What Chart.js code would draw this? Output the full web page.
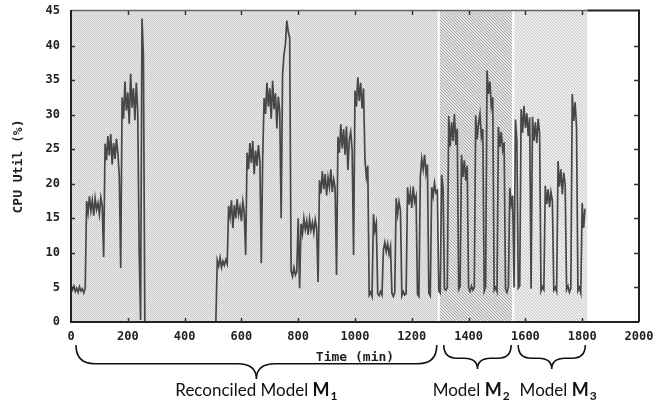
<!DOCTYPE html>
<html>
<head>
<meta charset="utf-8">
<script src="https://cdn.jsdelivr.net/npm/chart.js@4.4.1/dist/chart.umd.min.js"></script>
<style>
  html, body { margin: 0; padding: 0; background: #fff; }
  canvas { display: block; }
</style>
</head>
<body>
<canvas id="grafico" width="660" height="406"></canvas>
<script>
// samples every 5 minutes
const sampleStep = 5;

// first run: 0 .. 260 min
const run1Start = 0;
const run1Cpu = [
  5.0, 4.6, 5.2, 4.4, 4.9, 4.3, 5.1, 4.5, 4.8, 4.2, 4.9,
  17.5, 15.8, 18.2, 16.1, 17.6, 15.4, 17.9, 16.3, 17.2, 15.6, 18.0, 16.8,
  9.4,
  25.8, 23.4, 26.9, 24.1, 27.2, 22.8, 25.9, 23.6, 26.5, 24.4, 21.2,
  7.8,
  32.5, 29.4, 34.8, 30.6, 33.2, 28.7, 35.9, 31.0, 33.8, 29.2, 34.6, 30.4,
  10.4, 0.3, 43.9, 38.5, 0
];

// second run: 510 .. 1810 min
const run2Start = 510;
const run2Cpu = [
  0,
  8.9, 8.1, 9.3, 7.9, 8.8, 8.2, 9.0, 8.4,
  16.8, 15.2, 17.6, 13.6, 16.9, 15.0, 17.8, 15.5, 16.6, 14.6, 17.4, 15.8,
  9.7,
  24.5, 22.1, 25.9, 23.0, 26.2, 21.4, 24.8, 22.6, 25.6, 23.3,
  8.5, 23.8,
  32.4, 30.1, 34.6, 31.2, 33.8, 29.4, 34.9, 30.8, 33.1, 28.0, 32.6, 30.5,
  15.0,
  35.8, 38.7, 40.2, 43.6, 42.0, 41.1,
  7.4, 6.6, 7.9, 6.8, 7.3,
  15.0, 4.9,
  14.2, 12.8, 15.0, 13.4, 14.6, 12.6, 14.9, 13.3, 14.4, 12.9, 14.8, 13.6,
  5.8,
  20.5, 18.6, 21.8, 19.2, 21.4, 18.3, 20.9, 19.5, 22.1, 18.8, 20.6, 19.4,
  6.8,
  26.8, 24.5, 28.6, 25.1, 27.9, 24.2, 28.3, 22.0, 26.4, 27.5, 24.8,
  9.7,
  33.5, 31.2, 35.4, 32.0, 34.6, 30.9, 33.8,
  23.5, 21.0, 22.6,
  3.9, 4.3, 3.7,
  15.6, 13.2, 14.3,
  4.1, 3.8, 4.4, 3.9,
  10.4, 11.5, 10.2, 11.3, 9.8, 10.9,
  4.2, 3.7, 4.3,
  17.9, 15.6, 17.4, 16.2,
  3.8, 4.4, 3.9, 4.1,
  19.5, 17.0, 18.8, 16.5, 19.6, 17.4, 18.2,
  4.0, 3.7,
  21.0, 23.6, 22.1, 24.2, 21.5, 22.8,
  4.2, 3.8,
  19.5, 18.2, 20.1, 18.7, 19.0,
  4.5, 4.2,
  21.3, 19.4,
  4.8, 4.6, 5.0,
  29.8, 25.4, 28.9, 26.2, 30.1, 25.6, 28.0,
  4.7, 5.1,
  24.2, 21.0, 23.4, 20.5, 22.6,
  4.9, 4.4, 5.2, 4.6, 5.0,
  29.9, 26.4, 28.7, 30.1, 26.8, 27.9,
  4.5, 5.1,
  36.4, 33.0, 34.8, 31.2, 32.5,
  4.6, 5.0, 4.4,
  28.2, 25.3, 27.5, 24.9, 26.0,
  4.8, 4.3, 5.1,
  19.4, 17.0, 18.3,
  5.0,
  29.3, 26.2,
  4.9, 5.2,
  30.8, 27.4, 31.3, 28.1, 30.2, 26.9, 29.6,
  4.8,
  29.7, 26.2, 28.9, 25.9, 29.4, 27.3,
  4.5, 5.1, 4.7,
  19.7, 17.1, 19.2, 16.6, 18.8, 17.5,
  4.6, 5.0, 4.4,
  23.3, 19.6, 22.1, 18.5, 21.6, 19.9,
  4.7, 5.2, 4.3, 4.9,
  33.0, 29.1, 31.8, 28.2,
  4.5, 5.0, 4.2,
  17.2, 13.6, 16.4
];

// model periods (min)
const modelStart = [0, 1295, 1557];
const modelEnd = [1295, 1557, 1818];
const modelNames = ['Reconciled Model', 'Model', 'Model'];
const modelSubs = ['1', '2', '3'];

const xTickStep = 200;
const yTickStep = 5;

const tickFont = { family: 'DejaVu Sans Mono', size: 12, weight: 'bold' };
const titleFont = { family: 'DejaVu Sans Mono', size: 13, weight: 'bold' };

function montarPontos() {
  const pontos = [];
  run1Cpu.forEach((v, i) => pontos.push({ x: run1Start + i * sampleStep, y: v }));
  pontos.push({ x: (run1Start + run1Cpu.length * sampleStep + run2Start) / 2, y: null });
  run2Cpu.forEach((v, i) => pontos.push({ x: run2Start + i * sampleStep, y: v }));
  return pontos;
}

function criarPadrao(ctx, size, pintar) {
  const c = document.createElement('canvas');
  c.width = size;
  c.height = size;
  const g = c.getContext('2d');
  for (let py = 0; py < size; py++) {
    for (let px = 0; px < size; px++) {
      g.fillStyle = pintar(px, py);
      g.fillRect(px, py, 1, 1);
    }
  }
  return ctx.createPattern(c, 'repeat');
}

let padroes = null;

function desenharChave(ctx, x1, x2, yTop, h) {
  const xm = (x1 + x2) / 2;
  const ym = yTop + h * 0.55;
  const r = Math.min(h * 0.55, (x2 - x1) / 4);
  ctx.beginPath();
  ctx.moveTo(x1, yTop);
  ctx.quadraticCurveTo(x1, ym, x1 + r, ym);
  ctx.lineTo(xm - r, ym);
  ctx.quadraticCurveTo(xm, ym, xm, yTop + h);
  ctx.quadraticCurveTo(xm, ym, xm + r, ym);
  ctx.lineTo(x2 - r, ym);
  ctx.quadraticCurveTo(x2, ym, x2, yTop);
  ctx.stroke();
}

const fonteNome = '17px Lato';
const fonteM = 'bold 18px Lato';
const fonteSub = 'bold 12px Lato';

function larguraRotulo(ctx, nome, sub) {
  ctx.font = fonteNome;
  const w1 = ctx.measureText(nome + ' ').width;
  ctx.font = fonteM;
  const w2 = ctx.measureText('M').width + 1;
  ctx.font = fonteSub;
  const w3 = ctx.measureText(sub).width;
  return [w1, w2, w3];
}

function desenharRotulo(ctx, xStart, y, nome, sub) {
  const [w1, w2] = larguraRotulo(ctx, nome, sub);
  let x = xStart;
  ctx.fillStyle = '#111';
  ctx.textAlign = 'left';
  ctx.textBaseline = 'alphabetic';
  ctx.font = fonteNome;
  ctx.fillText(nome + ' ', x, y);
  x += w1;
  ctx.font = fonteM;
  ctx.fillText('M', x, y);
  x += w2;
  ctx.font = fonteSub;
  ctx.fillText(sub, x, y + 4);
}

const sombreamento = {
  id: 'sombreamento',
  beforeDatasetsDraw(chart) {
    const { ctx, chartArea: a, scales: { x } } = chart;
    if (!padroes) {
      padroes = [
        criarPadrao(ctx, 2, (px, py) => ((px + py) % 2 === 0 ? '#cdcdcd' : '#e8e8e8')),
        criarPadrao(ctx, 3, (px, py) => ((px - py + 9) % 3 === 0 ? '#a9a9a9' : '#e2e2e2')),
        criarPadrao(ctx, 3, (px, py) => ((px - py + 9) % 3 === 0 ? '#c6c6c6' : '#efefef'))
      ];
    }
    ctx.save();
    modelStart.forEach((s, k) => {
      const x1 = x.getPixelForValue(s);
      const x2 = x.getPixelForValue(modelEnd[k]);
      ctx.fillStyle = padroes[k];
      ctx.fillRect(x1, a.top, x2 - x1, a.bottom - a.top);
    });
    ctx.fillStyle = '#fff';
    modelStart.forEach((s, k) => {
      if (k > 0) {
        const xp = x.getPixelForValue(s);
        ctx.fillRect(xp - 1, a.top, 2, a.bottom - a.top);
      }
    });
    ctx.restore();
  },
  afterDatasetsDraw(chart) {
    const { ctx, chartArea: a, scales: { x, y } } = chart;
    ctx.save();
    const fimSombra = x.getPixelForValue(modelEnd[modelEnd.length - 1]);
    // top border
    ctx.strokeStyle = '#666';
    ctx.lineWidth = 1.5;
    ctx.beginPath();
    ctx.moveTo(a.left, a.top - 0.5);
    ctx.lineTo(fimSombra, a.top - 0.5);
    ctx.stroke();
    ctx.strokeStyle = '#222';
    ctx.lineWidth = 2;
    ctx.beginPath();
    ctx.moveTo(fimSombra, a.top - 0.5);
    ctx.lineTo(a.right, a.top - 0.5);
    ctx.stroke();
    // left, bottom, right
    ctx.beginPath();
    ctx.moveTo(a.left, a.top - 1);
    ctx.lineTo(a.left, a.bottom);
    ctx.lineTo(a.right, a.bottom);
    ctx.moveTo(a.right, a.top - 1.5);
    ctx.lineTo(a.right, a.bottom);
    ctx.stroke();
    // inward ticks
    ctx.strokeStyle = '#333';
    ctx.lineWidth = 1.5;
    ctx.beginPath();
    x.ticks.forEach((t) => {
      if (t.value <= x.min || t.value >= x.max) return;
      const xp = Math.round(x.getPixelForValue(t.value)) + 0.5;
      ctx.moveTo(xp, a.bottom);
      ctx.lineTo(xp, a.bottom - 4);
      ctx.moveTo(xp, a.top);
      ctx.lineTo(xp, a.top + 4);
    });
    y.ticks.forEach((t) => {
      if (t.value <= y.min || t.value >= y.max) return;
      const yp = Math.round(y.getPixelForValue(t.value)) + 0.5;
      ctx.moveTo(a.left, yp);
      ctx.lineTo(a.left + 4, yp);
      ctx.moveTo(a.right, yp);
      ctx.lineTo(a.right - 5, yp);
    });
    ctx.stroke();
    ctx.restore();
  },
  afterDraw(chart) {
    const { ctx, scales: { x } } = chart;
    ctx.save();
    ctx.strokeStyle = '#111';
    ctx.lineWidth = 1.6;
    const chaves = modelStart.map((s, k) => [x.getPixelForValue(s) + 5, x.getPixelForValue(modelEnd[k]) - 2]);
    // label boxes centred on the braces, pushed apart when they collide
    const caixas = chaves.map(([x1, x2], k) => {
      const w = larguraRotulo(ctx, modelNames[k], modelSubs[k]).reduce((p, q) => p + q, 0);
      return { x: (x1 + x2) / 2 - w / 2, w };
    });
    for (let k = 1; k < caixas.length; k++) {
      const anterior = caixas[k - 1];
      const falta = anterior.x + anterior.w + 10 - caixas[k].x;
      if (falta > 0) {
        anterior.x -= falta / 2;
        caixas[k].x += falta / 2;
      }
    }
    chaves.forEach(([x1, x2], k) => {
      const h = k === 0 ? 34 : 24;
      desenharChave(ctx, x1, x2, 345, h);
      desenharRotulo(ctx, caixas[k].x, 396, modelNames[k], modelSubs[k]);
    });
    ctx.restore();
  }
};

function semPadding(s) {
  s.paddingTop = 0;
  s.paddingBottom = 0;
  s.paddingLeft = 0;
  s.paddingRight = 0;
}

new Chart(document.getElementById('grafico'), {
  type: 'line',
  data: {
    datasets: [
      {
        data: montarPontos(),
        borderColor: '#474747',
        borderWidth: 1.7,
        pointRadius: 0,
        tension: 0,
        spanGaps: false,
        fill: false
      }
    ]
  },
  options: {
    responsive: false,
    animation: false,
    events: [],
    layout: { padding: { top: 11, right: 21, left: 0, bottom: 0 } },
    plugins: { legend: { display: false }, tooltip: { enabled: false } },
    scales: {
      x: {
        type: 'linear',
        min: 0,
        max: 2000,
        grid: { display: false, drawTicks: false },
        border: { display: false },
        ticks: {
          stepSize: xTickStep,
          autoSkip: false,
          maxRotation: 0,
          font: tickFont,
          color: '#222',
          padding: 8,
          callback: (v) => String(v)
        },
        title: {
          display: true,
          text: 'Time (min)',
          font: titleFont,
          color: '#222',
          padding: { top: 0, bottom: 41 }
        },
        afterFit: (s) => { s.height = 84; semPadding(s); }
      },
      y: {
        min: 0,
        max: 45,
        grid: { display: false, drawTicks: false },
        border: { display: false },
        ticks: {
          stepSize: yTickStep,
          font: tickFont,
          color: '#222',
          padding: 11,
          callback: (v) => String(v)
        },
        title: {
          display: true,
          text: 'CPU Util (%)',
          font: titleFont,
          color: '#222',
          padding: { top: 11, bottom: 0 }
        },
        afterFit: (s) => { s.width = 71; semPadding(s); }
      }
    }
  },
  plugins: [sombreamento]
});
</script>
</body>
</html>
